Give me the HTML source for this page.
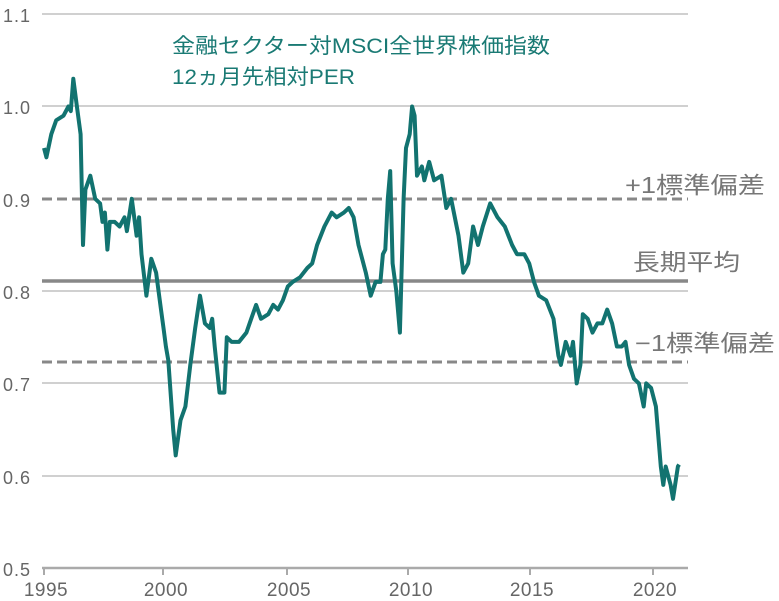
<!DOCTYPE html>
<html><head><meta charset="utf-8"><style>
body{margin:0;background:#fff;}
svg{display:block;}
</style></head><body>
<svg id="c" width="779" height="601" xmlns="http://www.w3.org/2000/svg" font-family="Liberation Sans, Noto Sans CJK JP, sans-serif">
<g stroke="#d0d0d0" stroke-width="2">
<line x1="42" x2="688" y1="14" y2="14"/>
<line x1="42" x2="688" y1="106" y2="106"/>
<line x1="42" x2="688" y1="291" y2="291"/>
<line x1="42" x2="688" y1="383" y2="383"/>
<line x1="42" x2="688" y1="476" y2="476"/>
</g>
<line x1="42" x2="688" y1="568" y2="568" stroke="#aaa" stroke-width="2.5"/>
<g stroke="#aaa" stroke-width="2">
<line x1="44" x2="44" y1="568" y2="575"/><line x1="163" x2="163" y1="568" y2="575"/>
<line x1="287" x2="287" y1="568" y2="575"/><line x1="408" x2="408" y1="568" y2="575"/>
<line x1="530" x2="530" y1="568" y2="575"/><line x1="653" x2="653" y1="568" y2="575"/>
</g>
<line x1="42" x2="688" y1="199" y2="199" stroke="#888" stroke-width="3" stroke-dasharray="10,5"/>
<line x1="42" x2="688" y1="362" y2="362" stroke="#888" stroke-width="3" stroke-dasharray="10,5"/>
<line x1="42" x2="688" y1="281" y2="281" stroke="#888" stroke-width="3.5"/>
<g fill="#666" font-size="18" letter-spacing="1">
<text x="3" y="22">1.1</text><text x="3" y="114">1.0</text><text x="3" y="207">0.9</text>
<text x="3" y="299">0.8</text><text x="3" y="391">0.7</text><text x="3" y="484">0.6</text><text x="3" y="576">0.5</text>
</g>
<g fill="#666" font-size="19" text-anchor="middle" letter-spacing="0.5">
<text x="46" y="596">1995</text><text x="166" y="596">2000</text><text x="289" y="596">2005</text>
<text x="411" y="596">2010</text><text x="532" y="596">2015</text><text x="655" y="596">2020</text>
</g>
<g fill="#1a7a74" font-size="21">
<text x="172" y="53" textLength="378" lengthAdjust="spacingAndGlyphs">金融セクター対MSCI全世界株価指数</text>
<text x="172" y="84" textLength="183" lengthAdjust="spacingAndGlyphs">12ヵ月先相対PER</text>
</g>
<g fill="#777" font-size="23">
<text x="625" y="193" textLength="140" lengthAdjust="spacingAndGlyphs">+1標準偏差</text>
<text x="633" y="270" textLength="107" lengthAdjust="spacingAndGlyphs">長期平均</text>
<text x="635" y="351" textLength="140" lengthAdjust="spacingAndGlyphs">−1標準偏差</text>
</g>
<polyline id="ln" fill="none" stroke="#127370" stroke-width="4" stroke-linejoin="round"/>
</svg>
<script>
var d=[1995.0,0.955,1995.1,0.945,1995.3,0.97,1995.5,0.985,1995.8,0.99,1996.0,1.0,1996.1,0.995,1996.2,1.03,1996.35,1.0,1996.5,0.97,1996.6,0.85,1996.7,0.91,1996.9,0.925,1997.1,0.9,1997.3,0.895,1997.4,0.875,1997.5,0.885,1997.6,0.845,1997.7,0.875,1997.9,0.875,1998.1,0.87,1998.3,0.88,1998.4,0.865,1998.6,0.9,1998.8,0.86,1998.9,0.88,1999.0,0.84,1999.2,0.795,1999.4,0.835,1999.6,0.82,1999.8,0.78,1999.9,0.76,2000.0,0.74,2000.1,0.725,2000.3,0.65,2000.4,0.622,2000.6,0.66,2000.8,0.675,2001.0,0.72,2001.2,0.76,2001.4,0.795,2001.6,0.765,2001.8,0.76,2001.9,0.77,2002.0,0.74,2002.2,0.69,2002.4,0.69,2002.5,0.75,2002.7,0.745,2003.0,0.745,2003.3,0.755,2003.5,0.77,2003.7,0.785,2003.9,0.77,2004.2,0.775,2004.4,0.785,2004.6,0.78,2004.8,0.79,2005.0,0.805,2005.2,0.81,2005.5,0.815,2005.8,0.825,2006.0,0.83,2006.2,0.85,2006.5,0.87,2006.8,0.885,2007.0,0.88,2007.3,0.885,2007.5,0.89,2007.7,0.88,2007.9,0.85,2008.2,0.82,2008.4,0.795,2008.6,0.81,2008.8,0.81,2008.9,0.84,2009.0,0.845,2009.1,0.9,2009.2,0.93,2009.3,0.83,2009.45,0.8,2009.6,0.755,2009.75,0.9,2009.85,0.955,2010.0,0.97,2010.1,1.0,2010.2,0.99,2010.3,0.925,2010.5,0.935,2010.6,0.92,2010.8,0.94,2011.0,0.92,2011.3,0.925,2011.5,0.89,2011.7,0.9,2012.0,0.86,2012.2,0.82,2012.4,0.83,2012.6,0.87,2012.8,0.85,2013.0,0.87,2013.3,0.895,2013.6,0.88,2013.9,0.87,2014.2,0.85,2014.4,0.84,2014.7,0.84,2014.9,0.83,2015.1,0.81,2015.3,0.795,2015.6,0.79,2015.9,0.77,2016.1,0.73,2016.2,0.72,2016.4,0.745,2016.6,0.73,2016.7,0.745,2016.85,0.70,2017.0,0.72,2017.1,0.775,2017.3,0.77,2017.5,0.755,2017.7,0.765,2017.9,0.765,2018.1,0.78,2018.3,0.765,2018.5,0.74,2018.7,0.74,2018.85,0.745,2019.0,0.72,2019.2,0.705,2019.4,0.70,2019.6,0.675,2019.7,0.70,2019.9,0.695,2020.1,0.675,2020.3,0.61,2020.4,0.59,2020.5,0.61,2020.7,0.59,2020.8,0.575,2021.0,0.61,2021.05,0.612];
var p=[];for(var i=0;i<d.length;i+=2){p.push(((d[i]-1995)*24.38+44).toFixed(1)+","+(568-(d[i+1]-0.5)*923).toFixed(1));}
document.getElementById("ln").setAttribute("points",p.join(" "));
</script>
</body></html>
